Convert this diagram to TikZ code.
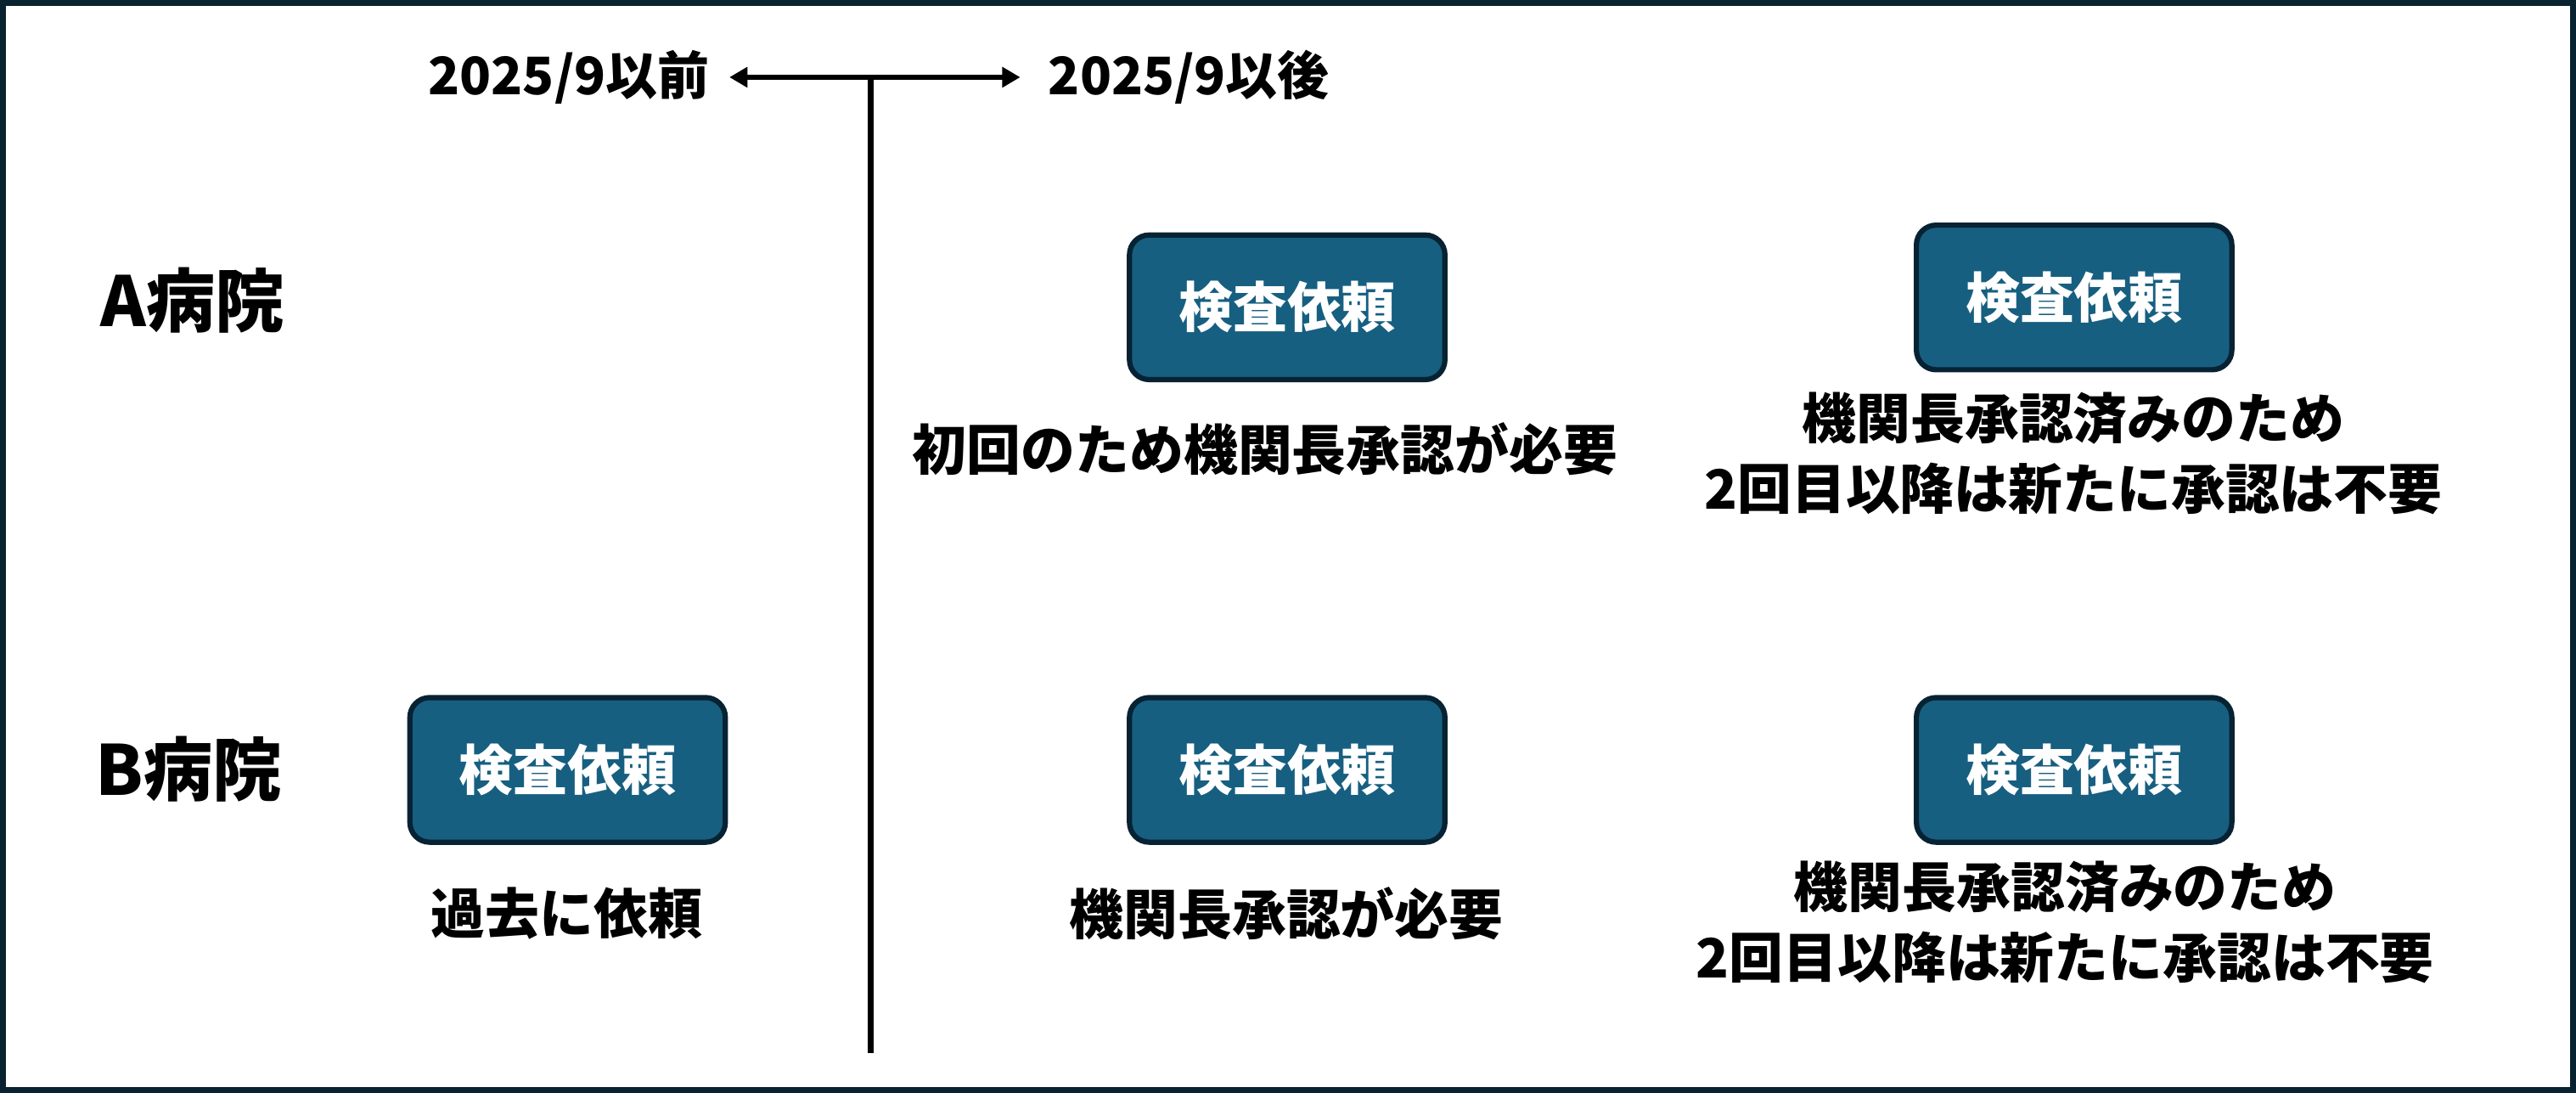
\documentclass[tikz,border=0pt]{standalone}
\usepackage{fontspec}
\setmainfont{Noto Sans CJK JP}
\usetikzlibrary{arrows.meta}
\definecolor{boxfill}{HTML}{175F80}
\definecolor{boxline}{HTML}{062233}
\definecolor{frame}{HTML}{08232F}
\tikzset{
  reqbox/.style={draw=boxline, line width=3.2pt, fill=boxfill, rounded corners=12pt,
    minimum width=192pt, minimum height=88pt, text=white, font=\bfseries\fontsize{33}{38}\selectfont, inner sep=0pt},
  note/.style={font=\bfseries\fontsize{33}{43}\selectfont, align=center, inner sep=0pt},
  hosp/.style={font=\bfseries\fontsize{42}{46}\selectfont, inner sep=0pt},
  hdr/.style={font=\bfseries\fontsize{31.5}{36}\selectfont, inner sep=0pt},
}
\begin{document}
\begin{tikzpicture}[x=1pt,y=-1pt]
\useasboundingbox (0,0) rectangle (1568,665);
\draw[frame, line width=3.5pt] (1.75,1.75) rectangle (1566.25,663.25);
% header
\coordinate (top) at (530,47);
\coordinate (bot) at (530,641);
\node[hdr, anchor=east] (before) at (432,47) {2025/9以前};
\node[hdr, anchor=west] (after) at (638,47) {2025/9以後};
\coordinate (al) at (444,47);
\coordinate (ar) at (621,47);
\draw[line width=2.8pt, {Triangle[length=11pt,width=12pt]}-{Triangle[length=11pt,width=12pt]}] (al) -- (ar);
\draw[line width=3.6pt] (top) -- (bot);
% hospitals
\node[hosp, anchor=west] (ha) at (61,183) {A病院};
\node[hosp, anchor=west] (hb) at (58,468) {B病院};
% A row
\node[reqbox] (a1) at (783.5,187) {検査依頼};
\node[reqbox] (a2) at (1262.5,181) {検査依頼};
\node[note] (na1) at (770,273) {初回のため機関長承認が必要};
\node[note] (na2) at (1262,276) {機関長承認済みのため\\2回目以降は新たに承認は不要};
% B row
\node[reqbox] (b0) at (345.5,468.5) {検査依頼};
\node[reqbox] (b1) at (783.5,468.5) {検査依頼};
\node[reqbox] (b2) at (1262.5,468.5) {検査依頼};
\node[note] (nb0) at (345,556) {過去に依頼};
\node[note] (nb1) at (783,556) {機関長承認が必要};
\node[note] (nb2) at (1257,561) {機関長承認済みのため\\2回目以降は新たに承認は不要};
\end{tikzpicture}
\end{document}
